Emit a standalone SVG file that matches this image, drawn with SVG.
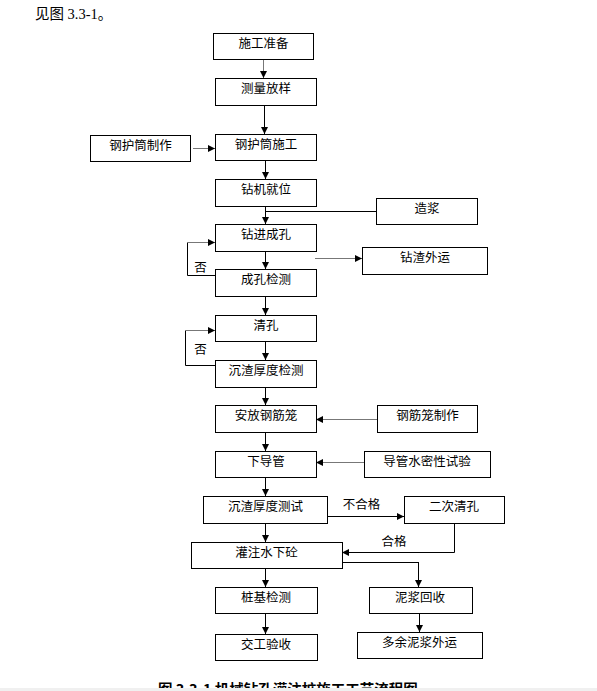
<svg xmlns="http://www.w3.org/2000/svg" width="597" height="691" viewBox="0 0 597 691">
<style>
.box rect{fill:#fff;stroke:#000;stroke-width:1}
.box text,.lbl{font-family:"Noto Sans CJK SC","Liberation Sans",sans-serif;font-size:12.5px;fill:#000;text-anchor:middle}
.c{fill:none;stroke:#000;stroke-width:1}
.g{stroke:#777}
</style>
<defs>
<marker id="ah" markerUnits="userSpaceOnUse" markerWidth="8" markerHeight="8" refX="7" refY="3.5" orient="auto">
<path d="M0,0 L7,3.5 L0,7 z" fill="#000"/>
</marker>
</defs>
<rect width="597" height="691" fill="#fff"/>
<text x="35" y="19" font-family="Liberation Serif,'Noto Sans CJK SC',serif" font-size="14.5" fill="#000">见图 3.3-1。</text>

<g id="connectors">
<line class="c g" x1="263.5" y1="59" x2="263.5" y2="78" marker-end="url(#ah)"/>
<line class="c" x1="264.5" y1="105" x2="264.5" y2="134" marker-end="url(#ah)"/>
<line class="c g" x1="193" y1="148.5" x2="215" y2="148.5" marker-end="url(#ah)"/>
<line class="c" x1="265.5" y1="160" x2="265.5" y2="179" marker-end="url(#ah)"/>
<line class="c" x1="265.5" y1="206" x2="265.5" y2="224" marker-end="url(#ah)"/>
<line class="c" x1="265.5" y1="211.5" x2="376" y2="211.5"/>
<line class="c" x1="265.5" y1="251" x2="265.5" y2="269" marker-end="url(#ah)"/>
<line class="c g" x1="315" y1="258.5" x2="362" y2="258.5" marker-end="url(#ah)"/>
<polyline class="c" points="215,275.5 187.5,275.5 187.5,242.5"/>
<line class="c g" x1="187" y1="242.5" x2="215" y2="242.5" marker-end="url(#ah)"/>
<line class="c" x1="265.5" y1="296" x2="265.5" y2="315" marker-end="url(#ah)"/>
<line class="c" x1="265.5" y1="341" x2="265.5" y2="360" marker-end="url(#ah)"/>
<polyline class="c" points="215,365.5 185.5,365.5 185.5,330.5"/>
<line class="c g" x1="185" y1="330.5" x2="215" y2="330.5" marker-end="url(#ah)"/>
<line class="c" x1="265.5" y1="387" x2="265.5" y2="405" marker-end="url(#ah)"/>
<line class="c g" x1="377" y1="419.5" x2="316" y2="419.5" marker-end="url(#ah)"/>
<line class="c" x1="265.5" y1="432" x2="265.5" y2="451" marker-end="url(#ah)"/>
<line class="c g" x1="364" y1="462.5" x2="316" y2="462.5" marker-end="url(#ah)"/>
<line class="c" x1="265.5" y1="477" x2="265.5" y2="496" marker-end="url(#ah)"/>
<line class="c" x1="327" y1="516.5" x2="404" y2="516.5" marker-end="url(#ah)"/>
<polyline class="c" points="454.5,523 454.5,552.5 350,552.5"/>
<line class="c" x1="454" y1="552.5" x2="342" y2="552.5" marker-end="url(#ah)"/>
<line class="c" x1="265.5" y1="523" x2="265.5" y2="542" marker-end="url(#ah)"/>
<line class="c" x1="265.5" y1="568" x2="265.5" y2="587" marker-end="url(#ah)"/>
<polyline class="c" points="342,562.5 418.5,562.5 418.5,575"/>
<line class="c" x1="418.5" y1="562" x2="418.5" y2="587" marker-end="url(#ah)"/>
<line class="c" x1="265.5" y1="613" x2="265.5" y2="634" marker-end="url(#ah)"/>
<line class="c" x1="419.5" y1="613" x2="419.5" y2="632" marker-end="url(#ah)"/>
<text class="lbl" x="200.5" y="271.5">否</text>
<text class="lbl" x="200.5" y="353.5">否</text>
<text class="lbl" x="361.5" y="509">不合格</text>
<text class="lbl" x="394" y="546">合格</text>
</g>

<g id="n1" class="box"><rect x="213.5" y="33.5" width="100" height="26"/><text x="263.5" y="48">施工准备</text></g>
<g id="n2" class="box"><rect x="215.5" y="78.5" width="101" height="27"/><text x="266" y="93">测量放样</text></g>
<g id="n3" class="box"><rect x="90.5" y="135.5" width="100" height="26"/><text x="140.5" y="150">钢护筒制作</text></g>
<g id="n4" class="box"><rect x="215.5" y="134.5" width="101" height="26"/><text x="266" y="149">钢护筒施工</text></g>
<g id="n5" class="box"><rect x="215.5" y="179.5" width="101" height="27"/><text x="266" y="194">钻机就位</text></g>
<g id="n6" class="box"><rect x="376.5" y="198.5" width="101" height="26"/><text x="427" y="213">造浆</text></g>
<g id="n7" class="box"><rect x="215.5" y="224.5" width="101" height="27"/><text x="266" y="239">钻进成孔</text></g>
<g id="n8" class="box"><rect x="362.5" y="247.5" width="125" height="27"/><text x="425" y="262">钻渣外运</text></g>
<g id="n9" class="box"><rect x="215.5" y="269.5" width="101" height="27"/><text x="266" y="284">成孔检测</text></g>
<g id="n10" class="box"><rect x="215.5" y="315.5" width="101" height="26"/><text x="266" y="330">清孔</text></g>
<g id="n11" class="box"><rect x="215.5" y="360.5" width="101" height="27"/><text x="266" y="375">沉渣厚度检测</text></g>
<g id="n12" class="box"><rect x="215.5" y="405.5" width="101" height="27"/><text x="266" y="420">安放钢筋笼</text></g>
<g id="n13" class="box"><rect x="377.5" y="405.5" width="100" height="27"/><text x="427.5" y="420">钢筋笼制作</text></g>
<g id="n14" class="box"><rect x="215.5" y="451.5" width="101" height="26"/><text x="266" y="466">下导管</text></g>
<g id="n15" class="box"><rect x="364.5" y="451.5" width="126" height="26"/><text x="427" y="466">导管水密性试验</text></g>
<g id="n16" class="box"><rect x="203.5" y="496.5" width="124" height="27"/><text x="265.5" y="511">沉渣厚度测试</text></g>
<g id="n17" class="box"><rect x="404.5" y="496.5" width="100" height="27"/><text x="454" y="511">二次清孔</text></g>
<g id="n18" class="box"><rect x="191.5" y="542.5" width="151" height="26"/><text x="266.5" y="557">灌注水下砼</text></g>
<g id="n19" class="box"><rect x="215.5" y="587.5" width="102" height="26"/><text x="266" y="602">桩基检测</text></g>
<g id="n20" class="box"><rect x="369.5" y="587.5" width="103" height="26"/><text x="420" y="602">泥浆回收</text></g>
<g id="n21" class="box"><rect x="215.5" y="634.5" width="102" height="26"/><text x="266" y="649">交工验收</text></g>
<g id="n22" class="box"><rect x="357.5" y="632.5" width="125" height="26"/><text x="419.5" y="647">多余泥浆外运</text></g>

<text x="158" y="695" font-family="'Noto Sans CJK SC',sans-serif" font-size="14.5" font-weight="bold" fill="#000">图 3.3-1 机械钻孔灌注桩施工工艺流程图</text>
<rect x="0" y="688" width="597" height="3" fill="#f0f0f0"/>
</svg>
